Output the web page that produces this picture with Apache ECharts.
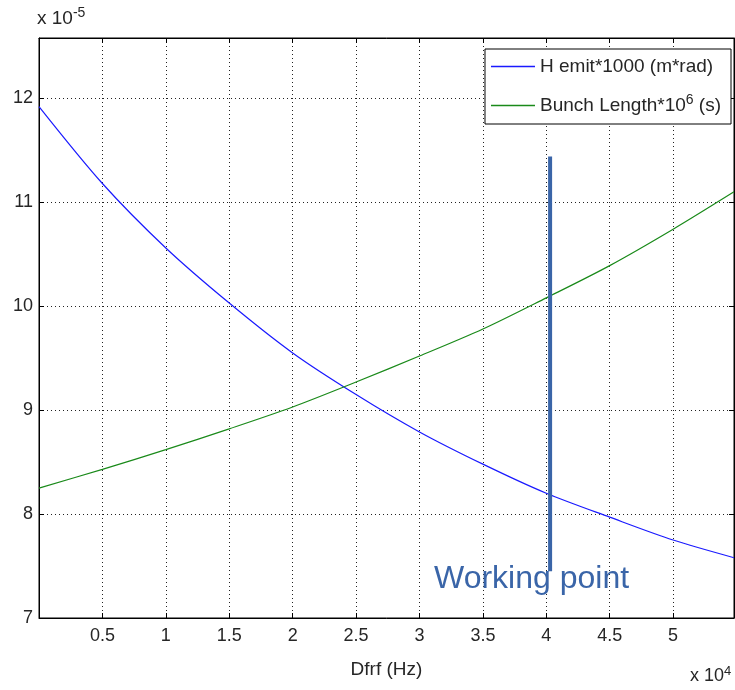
<!DOCTYPE html>
<html>
<head>
<meta charset="utf-8">
<script src="https://cdn.jsdelivr.net/npm/echarts@6/dist/echarts.min.js"></script>
<style>html,body{margin:0;padding:0;background:#fff}#c{width:735px;height:690px}</style>
</head>
<body>
<div id="c"></div>
<script>
// Dfrf (x 10^4 Hz)
const xValues = [0, 0.5, 1.0, 1.5, 2.0, 2.5, 3.0, 3.5, 4.0, 4.5, 5.0, 5.48];
// H emit*1000 (m*rad), x 10^-5
const hEmit = [11.92, 11.18, 10.56, 10.03, 9.55, 9.15, 8.79, 8.48, 8.20, 7.97, 7.75, 7.58];
// Bunch Length*10^6 (s), x 10^-5
const bunchLength = [8.25, 8.43, 8.62, 8.82, 9.03, 9.27, 9.52, 9.78, 10.08, 10.39, 10.74, 11.10];
// Working point marker
const wpX = [4.03, 4.03];
const wpY = [11.44, 7.45];
const xTicks = [0.5, 1, 1.5, 2, 2.5, 3, 3.5, 4, 4.5, 5];
const yTicks = [7, 8, 9, 10, 11, 12];

const FONT = "'Liberation Sans', sans-serif";
const chart = echarts.init(document.getElementById('c'), null, {renderer: 'canvas'});
const pair = (xs, ys) => xs.map((x, i) => [x, ys[i]]);
const fmtX = v => (xTicks.some(t => Math.abs(t - v) < 1e-6) ? String(v) : '');
const fmtY = v => (yTicks.some(t => Math.abs(t - v) < 1e-6) ? String(v) : '');

const tickCommon = {show: true, inside: true, length: 5, lineStyle: {color: '#000', width: 1}};
const splitCommon = {show: true, lineStyle: {color: '#222', type: [1, 3], width: 1}};
const TXT = '#262626';

chart.setOption({
  animation: false,
  backgroundColor: '#fff',
  textStyle: {fontFamily: FONT},
  grid: {left: 39, right: 1, top: 38, bottom: 72, show: true, borderColor: '#000', borderWidth: 1, backgroundColor: '#fff'},
  legend: {
    orient: 'vertical',
    right: 4,
    top: 49,
    backgroundColor: '#fff',
    borderColor: '#000',
    borderWidth: 1,
    borderRadius: 0,
    padding: [8, 10, 9, 6],
    itemGap: 17,
    itemWidth: 44,
    itemHeight: 1.5,
    icon: 'rect',
    data: ['H emit*1000 (m*rad)', 'Bunch Length*10^6 (s)'],
    textStyle: {
      fontFamily: FONT, fontSize: 19, color: TXT,
      rich: {sup: {fontFamily: FONT, fontSize: 14, color: TXT, padding: [0, 0, 11, 0]}}
    },
    formatter: name => name.replace('^6', '{sup|6}')
  },
  xAxis: [{
    type: 'value', min: 0, max: 5.48, interval: 0.5,
    position: 'bottom',
    axisLine: {show: true, onZero: false, lineStyle: {color: '#000', width: 1}},
    axisTick: tickCommon,
    splitLine: splitCommon,
    axisLabel: {show: true, margin: 9, fontSize: 18, color: TXT, fontFamily: FONT, showMinLabel: false, showMaxLabel: false, formatter: fmtX},
    name: 'Dfrf (Hz)', nameLocation: 'middle', nameGap: 42,
    nameTextStyle: {fontSize: 19, color: TXT, fontFamily: FONT}
  }, {
    type: 'value', min: 0, max: 5.48, interval: 0.5,
    position: 'top',
    axisLine: {show: true, onZero: false, lineStyle: {color: '#000', width: 1}},
    axisTick: tickCommon,
    splitLine: {show: false},
    axisLabel: {show: false}
  }],
  yAxis: [{
    type: 'value', min: 7, max: 12.58, interval: 1,
    position: 'left',
    axisLine: {show: true, onZero: false, lineStyle: {color: '#000', width: 1}},
    axisTick: tickCommon,
    splitLine: splitCommon,
    axisLabel: {show: true, margin: 6, fontSize: 18, color: TXT, fontFamily: FONT, showMaxLabel: false, formatter: fmtY}
  }, {
    type: 'value', min: 7, max: 12.58, interval: 1,
    position: 'right',
    axisLine: {show: true, onZero: false, lineStyle: {color: '#000', width: 1}},
    axisTick: tickCommon,
    splitLine: {show: false},
    axisLabel: {show: false}
  }],
  series: [{
    name: 'H emit*1000 (m*rad)',
    type: 'line',
    data: pair(xValues, hEmit),
    smooth: 0.3,
    symbol: 'none',
    lineStyle: {color: '#1a1aff', width: 1.2},
    itemStyle: {color: '#1a1aff'},
    z: 3
  }, {
    name: 'Bunch Length*10^6 (s)',
    type: 'line',
    data: pair(xValues, bunchLength),
    smooth: 0.3,
    symbol: 'none',
    lineStyle: {color: '#1a8a1a', width: 1.2},
    itemStyle: {color: '#1a8a1a'},
    z: 3
  }, {
    name: 'Working point',
    type: 'line',
    data: pair(wpX, wpY),
    symbol: 'none',
    lineStyle: {color: '#3a65a8', width: 4},
    itemStyle: {color: '#3a65a8'},
    z: 4
  }],
  graphic: [{
    type: 'text', left: 37, top: 6,
    style: {
      text: 'x 10{sup|-5}', fontFamily: FONT, fontSize: 19, fill: TXT,
      rich: {sup: {fontFamily: FONT, fontSize: 14, fill: TXT, padding: [0, 0, 11, 0]}}
    }
  }, {
    type: 'text', left: 690, top: 665,
    style: {
      text: 'x 10{sup|4}', fontFamily: FONT, fontSize: 18, fill: TXT,
      rich: {sup: {fontFamily: FONT, fontSize: 13, fill: TXT, padding: [0, 0, 10, 0]}}
    }
  }, {
    type: 'text', left: 434, top: 563, z: 10,
    style: {text: 'Working point', fontFamily: FONT, fontSize: 32, fill: '#3a65a8'}
  }]
});
</script>
</body>
</html>
